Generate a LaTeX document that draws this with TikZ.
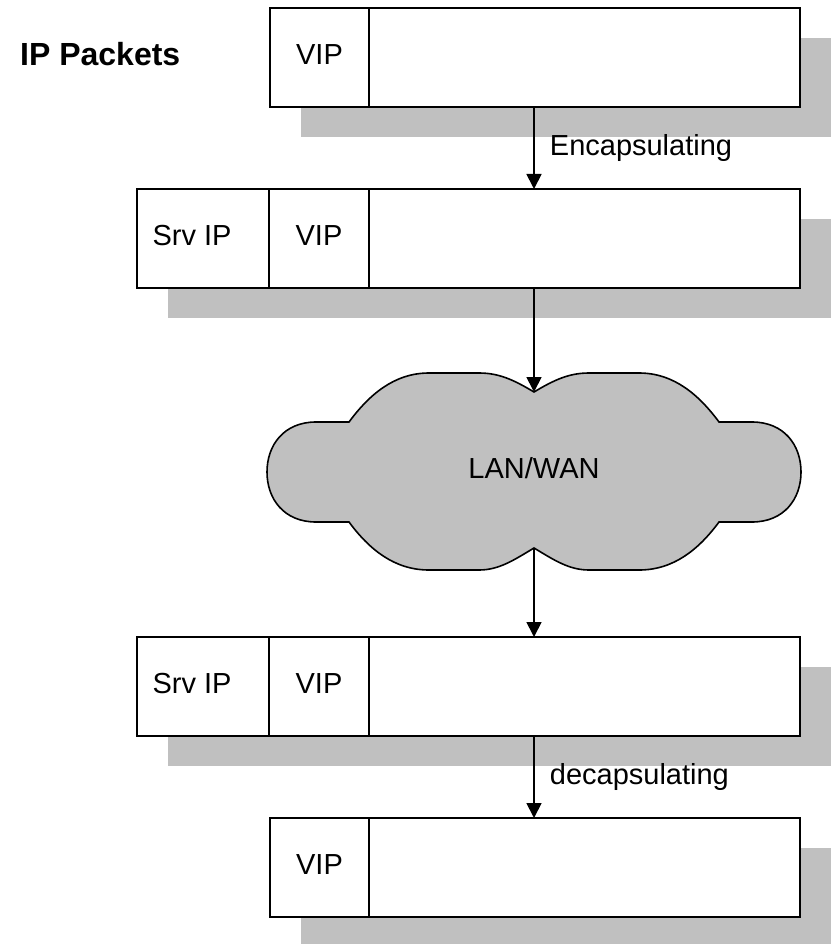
\documentclass[tikz,border=0pt]{standalone}
\usepackage{fontspec}
\setmainfont{Liberation Sans}
\usepackage{tikz}
\usetikzlibrary{arrows.meta, positioning, shadows}
\definecolor{shadowgray}{HTML}{C0C0C0}

\begin{document}
\begin{tikzpicture}[x=1pt, y=-1pt,
    packet/.style={draw, line width=2pt, fill=white, anchor=north west, inner sep=0pt, outer sep=0pt,
                   minimum width=#1, minimum height=99pt,
                   drop shadow={shadow xshift=31pt, shadow yshift=-30pt, fill=shadowgray, opacity=1}},
    field/.style={draw, line width=2pt, anchor=north west, inner sep=0pt, outer sep=0pt, text depth=5pt,
                  minimum width=#1, minimum height=99pt, font=\fontsize{29}{34}\selectfont},
    ptext/.style={font=\fontsize{29}{34}\selectfont, inner sep=0pt},
    flow/.style={-{Triangle[width=15pt, length=15pt]}, line width=1.8pt},
]
    \useasboundingbox (0,0) rectangle (834,944);

    % Title
    \node[font=\fontsize{32}{38}\selectfont\bfseries, anchor=base west, inner sep=0pt] (title) at (20,66) {IP Packets};

    % Packet 1
    \node[packet=530pt] (p1) at (270,8) {};
    \node[field=99pt] (v1) at (270,8) {VIP};

    % Packet 2 (encapsulated)
    \node[packet=663pt] (p2) at (137,189) {};
    \node[field=132pt] (s2) at (137,189) {};
    \node[ptext] (srv2) at ([xshift=-11pt, yshift=2.5pt]s2.center) {Srv IP};
    \node[field=100pt] (v2) at (s2.north east) {VIP};

    % LAN/WAN cloud
    \draw[line width=1.6pt, fill=shadowgray, shift={(534,472)}]
        (0,-80) .. controls (20,-92) and (35,-99) .. (55,-99) -- (105,-99)
        .. controls (140,-99) and (165,-77) .. (185,-50) -- (218,-50)
        .. controls (250,-50) and (267,-27) .. (267,0)
        .. controls (267,27) and (250,50) .. (218,50) -- (185,50)
        .. controls (165,77) and (140,98) .. (105,98) -- (55,98)
        .. controls (35,98) and (20,88) .. (0,76)
        .. controls (-20,88) and (-35,98) .. (-55,98) -- (-105,98)
        .. controls (-140,98) and (-165,77) .. (-185,50) -- (-218,50)
        .. controls (-250,50) and (-267,27) .. (-267,0)
        .. controls (-267,-27) and (-250,-50) .. (-218,-50) -- (-185,-50)
        .. controls (-165,-77) and (-140,-99) .. (-105,-99) -- (-55,-99)
        .. controls (-35,-99) and (-20,-92) .. (0,-80) -- cycle;
    \node[ptext] (lan) at (534,468) {LAN/WAN};
    \coordinate (lantop) at (534,392);
    \coordinate (lanbot) at (534,548);

    % Packet 3 (received)
    \node[packet=663pt] (p3) at (137,637) {};
    \node[field=132pt] (s3) at (137,637) {};
    \node[ptext] (srv3) at ([xshift=-11pt, yshift=2.5pt]s3.center) {Srv IP};
    \node[field=100pt] (v3) at (s3.north east) {VIP};

    % Packet 4
    \node[packet=530pt] (p4) at (270,818) {};
    \node[field=99pt] (v4) at (270,818) {VIP};

    % Arrows
    \draw[flow] (p1.south -| lan) -- node[ptext, right=15pt] (enc) {Encapsulating} (p2.north -| lan);
    \draw[flow] (p2.south -| lan) -- (lantop);
    \draw[flow] (lanbot) -- (p3.north -| lan);
    \draw[flow] (p3.south -| lan) -- node[ptext, right=15pt] (dec) {decapsulating} (p4.north -| lan);
\end{tikzpicture}
\end{document}
